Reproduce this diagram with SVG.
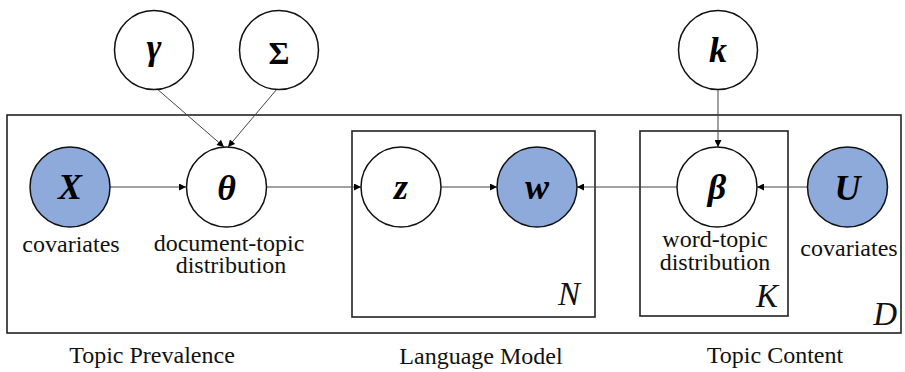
<svg xmlns="http://www.w3.org/2000/svg" width="905" height="372" viewBox="0 0 905 372" font-family="'Liberation Serif', 'Times New Roman', serif">
<style>
.plate{fill:none;stroke:#222;stroke-width:1.6}
.node{fill:#fff;stroke:#111;stroke-width:1.5}
.obs{fill:#8eaadb;stroke:#111;stroke-width:1.5}
.var{font-size:36px;font-weight:bold;font-style:italic;text-anchor:middle;fill:#000}
.up{font-style:normal;font-size:32px}
.lbl{font-size:24px;text-anchor:middle;fill:#111}
.plab{font-size:33px;font-style:italic;text-anchor:end;fill:#111}
.edge{stroke:#444;stroke-width:1;fill:none;marker-end:url(#ah)}
</style>
<defs>
<marker id="ah" viewBox="0 0 10 10" refX="10" refY="5" markerWidth="8" markerHeight="7" markerUnits="userSpaceOnUse" orient="auto">
<path d="M0,0 L10,5 L0,10 z" fill="#000"/>
</marker>
</defs>
<rect id="plate-D" class="plate" x="7" y="115" width="894" height="218"/>
<rect id="plate-N" class="plate" x="352" y="131" width="243" height="186"/>
<rect id="plate-K" class="plate" x="640" y="131" width="148" height="185"/>
<text class="plab" x="580" y="305">N</text>
<text class="plab" x="778" y="307">K</text>
<text class="plab" x="897" y="325">D</text>
<g id="connectors">
<line class="edge" x1="156" y1="88" x2="224" y2="147"/>
<line class="edge" x1="277" y1="89" x2="228" y2="147"/>
<line class="edge" x1="718" y1="89" x2="718" y2="147"/>
<line class="edge" x1="110" y1="187" x2="186" y2="187"/>
<line class="edge" x1="266" y1="187" x2="361" y2="187"/>
<line class="edge" x1="441" y1="187" x2="497" y2="187"/>
<line class="edge" x1="677" y1="187" x2="577" y2="187"/>
<line class="edge" x1="808" y1="187" x2="757" y2="187"/>
</g>
<g id="gamma"><circle class="node" cx="154" cy="50" r="39.5"/><text class="var" x="154" y="59">γ</text></g>
<g id="Sigma"><circle class="node" cx="279" cy="50" r="39.5"/><text class="var up" x="279" y="64">Σ</text></g>
<g id="k"><circle class="node" cx="718" cy="50" r="39.5"/><text class="var" x="718" y="62">k</text></g>
<g id="X"><circle class="obs" cx="70" cy="187" r="40"/><text class="var" x="70" y="199">X</text><text class="lbl" x="71" y="252">covariates</text></g>
<g id="theta"><circle class="node" cx="226.5" cy="187" r="40"/><text class="var" x="226.5" y="200">θ</text><text class="lbl" x="229" y="251">document-topic</text><text class="lbl" x="231" y="273">distribution</text></g>
<g id="z"><circle class="node" cx="401" cy="187" r="40"/><text class="var" x="401" y="199">z</text></g>
<g id="w"><circle class="obs" cx="537" cy="187" r="40"/><text class="var" x="537" y="199">w</text></g>
<g id="beta"><circle class="node" cx="717" cy="187" r="40"/><text class="var" x="717" y="199">β</text><text class="lbl" x="715" y="247">word-topic</text><text class="lbl" x="715" y="270">distribution</text></g>
<g id="U"><circle class="obs" cx="847.5" cy="187" r="40"/><text class="var" x="847.5" y="200">U</text><text class="lbl" x="849" y="256">covariates</text></g>
<text class="lbl" x="152" y="363">Topic Prevalence</text>
<text class="lbl" x="481" y="364">Language Model</text>
<text class="lbl" x="775" y="363">Topic Content</text>
</svg>
